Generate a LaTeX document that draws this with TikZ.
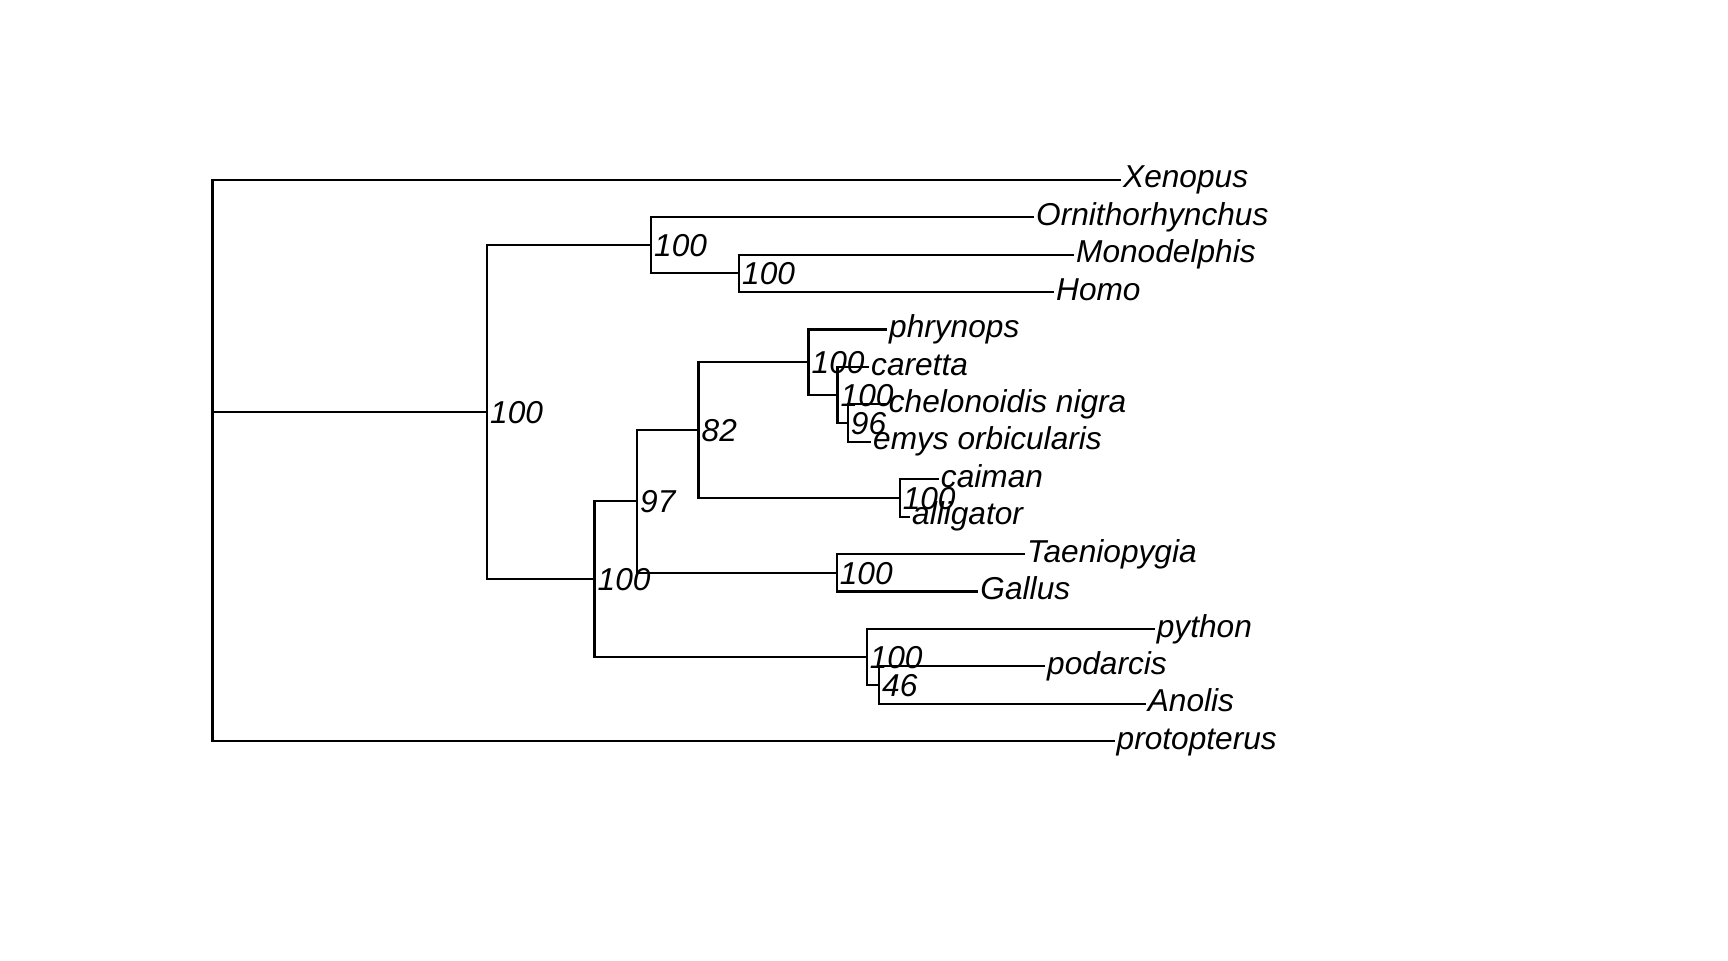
\documentclass[tikz,border=0pt]{standalone}
\usepackage{fontspec}
\setmainfont{Liberation Sans}
\usepackage{tikz}

\begin{document}
\begin{tikzpicture}[x=0.01cm,y=-0.374cm,
    branch/.style={line width=0.6pt,line cap=rect},
    support/.style={anchor=west,inner xsep=0.7pt,inner ysep=1pt,
                font=\fontsize{9}{10}\selectfont\itshape,
                text height=6.45pt,text depth=0pt},
    tip/.style={support,text depth=1.8pt}
]
\useasboundingbox (0,-3.805) rectangle (1728,21.864);

% internal nodes (y = mean of the children)
\coordinate (root)       at (212.5,7.2109);
\coordinate (amniota)    at (487,7.2109);
\coordinate (mammalia)   at (651,2.75);
\coordinate (theria)     at (739,3.5);
\coordinate (sauropsida) at (594.5,11.6719);
\coordinate (archelosa)  at (637,9.5938);
\coordinate (turtcroc)   at (698.5,7.6875);
\coordinate (testudines) at (808.5,5.875);
\coordinate (cryptodira) at (837.5,6.75);
\coordinate (emydids)    at (847.8,7.5);
\coordinate (crocs)      at (899.6,9.5);
\coordinate (aves)       at (836.7,11.5);
\coordinate (squamata)   at (866.6,13.75);
\coordinate (lizards)    at (879,14.5);

% tips
\node[tip] (xenopus)  at (1120,1)   {Xenopus};
\node[tip] (ornitho)  at (1033,2)   {Ornithorhynchus};
\node[tip] (monodel)  at (1073,3)   {Monodelphis};
\node[tip] (homo)     at (1053,4)   {Homo};
\node[tip] (phrynops) at (886,5)    {phrynops};
\node[tip] (caretta)  at (868,6)    {caretta};
\node[tip] (chelon)   at (885.7,7)  {chelonoidis nigra};
\node[tip] (emys)     at (870,8)    {emys orbicularis};
\node[tip] (caiman)   at (937.8,9)  {caiman};
\node[tip] (alligat)  at (909,10)   {alligator};
\node[tip] (taenio)   at (1024,11)  {Taeniopygia};
\node[tip] (gallus)   at (977.3,12) {Gallus};
\node[tip] (python)   at (1153.7,13) {python};
\node[tip] (podarcis) at (1044,14)  {podarcis};
\node[tip] (anolis)   at (1144.7,15) {Anolis};
\node[tip] (protopt)  at (1113.5,16) {protopterus};

\foreach \p/\c in {root/xenopus.west,root/amniota,root/protopt.west,
    amniota/mammalia,amniota/sauropsida,
    mammalia/ornitho.west,mammalia/theria,theria/monodel.west,theria/homo.west,
    sauropsida/archelosa,sauropsida/squamata,
    archelosa/turtcroc,archelosa/aves,
    turtcroc/testudines,turtcroc/crocs,
    testudines/phrynops.west,testudines/cryptodira,
    cryptodira/caretta.west,cryptodira/emydids,
    emydids/chelon.west,emydids/emys.west,
    crocs/caiman.west,crocs/alligat.west,
    aves/taenio.west,aves/gallus.west,
    squamata/python.west,squamata/lizards,
    lizards/podarcis.west,lizards/anolis.west}
  \draw[branch] (\p) |- (\c);

% bootstrap values
\foreach \n/\v in {amniota/100,mammalia/100,theria/100,sauropsida/100,
    archelosa/97,turtcroc/82,testudines/100,cryptodira/100,emydids/96,
    crocs/100,aves/100,squamata/100,lizards/46}
  \node[support] (bs-\n) at (\n) {\v};
\end{tikzpicture}
\end{document}
